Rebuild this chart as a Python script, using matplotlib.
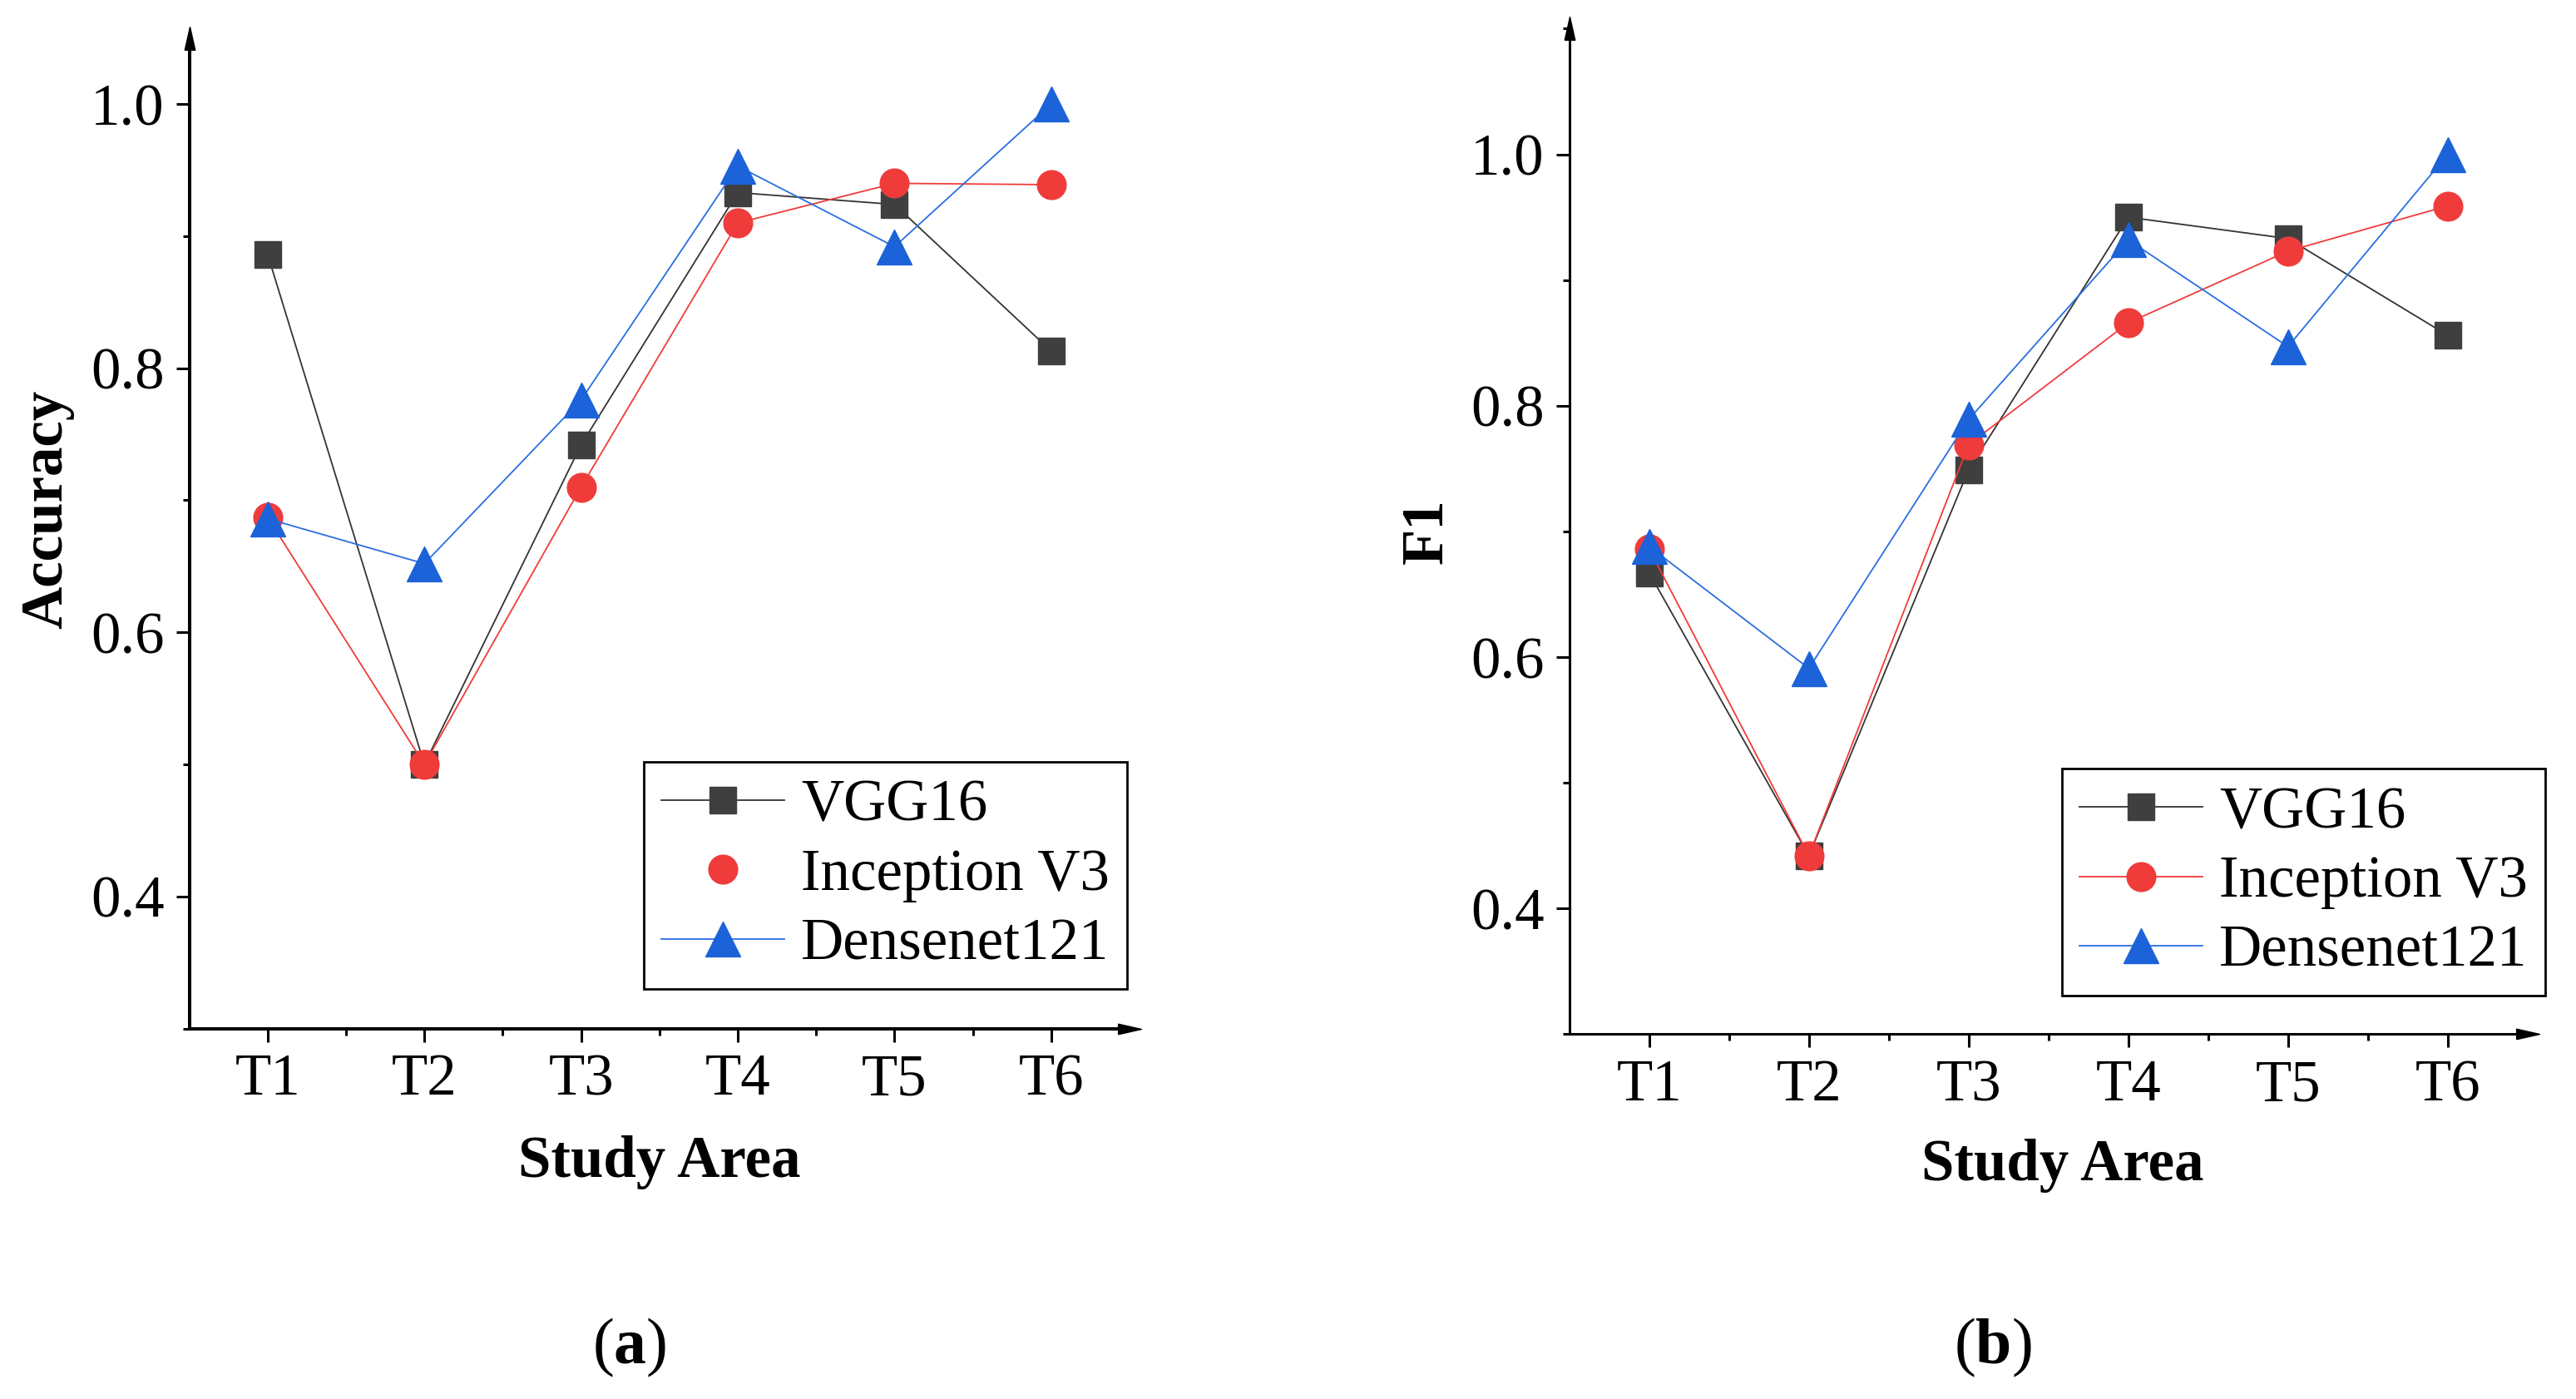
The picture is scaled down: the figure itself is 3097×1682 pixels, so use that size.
import matplotlib
matplotlib.use('Agg')
import matplotlib.pyplot as plt
from matplotlib.lines import Line2D
from matplotlib.ticker import MultipleLocator

plt.rcParams['font.family'] = ['Liberation Serif', 'DejaVu Serif']
plt.rcParams['mathtext.fontset'] = 'custom'
plt.rcParams['mathtext.rm'] = 'Liberation Serif'
plt.rcParams['mathtext.bf'] = 'Liberation Serif:bold'

areas = ['T1', 'T2', 'T3', 'T4', 'T5', 'T6']
models = ['VGG16', 'Inception V3', 'Densenet121']

# panel (a) accuracy
acc_vgg = [0.886, 0.500, 0.742, 0.933, 0.924, 0.813]
acc_inc = [0.687, 0.500, 0.710, 0.910, 0.940, 0.939]
acc_den = [0.686, 0.652, 0.776, 0.953, 0.892, 1.000]

# panel (b) F1
f1_vgg = [0.667, 0.442, 0.749, 0.950, 0.933, 0.856]
f1_inc = [0.686, 0.442, 0.769, 0.866, 0.923, 0.959]
f1_den = [0.688, 0.591, 0.789, 0.932, 0.847, 1.000]

c_vgg = '#3f3f3f'
c_inc = '#f03b3b'
c_den = '#1c62d8'
styles = [('s', 23, c_vgg, '#333333'),
          ('o', 25, c_inc, '#f03b3b'),
          ('^', 30, c_den, '#2a6ee0')]

arrow_r = [(-1, -0.45), (1, 0), (-1, 0.45), (-1, -0.45)]
arrow_u = [(-0.45, -1), (0, 1), (0.45, -1), (-0.45, -1)]

fig = plt.figure(figsize=(30.97, 16.82), dpi=100)
ax1 = fig.add_axes([0.0735, 0.2648, 0.365, 0.708])
ax2 = fig.add_axes([0.6092, 0.2608, 0.372, 0.7187])


def draw(ax, series, ylim, ylabel, spw, no_line_legend, leg_anchor,
         xl_pos, yl_pos, xl_pad):
    x = list(range(1, len(areas) + 1))
    for vals, (mk, ms, mc, lc) in zip(series, styles):
        ax.plot(x, vals, color=lc, lw=1.3, marker=mk, ms=ms,
                markerfacecolor=mc, markeredgecolor=mc, zorder=3)
    ax.set_xlim(0.5, 6.5)
    ax.set_ylim(*ylim)
    ax.set_xticks(x)
    ax.set_xticklabels(areas)
    ax.set_xticks([1.5, 2.5, 3.5, 4.5, 5.5], minor=True)
    ax.yaxis.set_minor_locator(MultipleLocator(0.1))
    ax.set_yticks([0.4, 0.6, 0.8, 1.0])
    ax.set_yticklabels(['0.4', '0.6', '0.8', '1.0'])
    ax.tick_params(which='major', length=11.5, width=2.2, direction='out',
                   labelsize=51, pad=10)
    ax.tick_params(which='minor', length=5.8, width=2.2, direction='out')
    for s in ['top', 'right']:
        ax.spines[s].set_visible(False)
    for s in ['left', 'bottom']:
        ax.spines[s].set_linewidth(spw)
    ax.plot(1, 0, marker=arrow_r, ms=20, color='black',
            transform=ax.transAxes, clip_on=False)
    ax.plot(0, 1, marker=arrow_u, ms=20, color='black',
            transform=ax.transAxes, clip_on=False)
    ax.set_xlabel('Study Area', fontsize=51, fontweight='bold',
                  labelpad=xl_pad, x=xl_pos)
    ax.set_ylabel(ylabel, fontsize=51, fontweight='bold', labelpad=14,
                  y=yl_pos)

    handles = []
    for i, (mk, ms, mc, lc) in enumerate(styles):
        ls = 'none' if i in no_line_legend else '-'
        handles.append(Line2D([], [], color=lc, lw=1.3, ls=ls, marker=mk,
                              ms=ms, markerfacecolor=mc, markeredgecolor=mc))
    leg = ax.legend(handles, models, loc='lower right',
                    bbox_to_anchor=leg_anchor, fontsize=51, frameon=True,
                    fancybox=False, framealpha=1, edgecolor='black',
                    handlelength=2.1, handletextpad=0.28, labelspacing=0.26,
                    borderpad=0.29, borderaxespad=0)
    leg.get_frame().set_linewidth(2.0)


draw(ax1, [acc_vgg, acc_inc, acc_den], (0.3, 1.05), 'Accuracy', 2.9, [1],
     (0.997, 0.040), 0.5, 0.524, 24)
draw(ax2, [f1_vgg, f1_inc, f1_den], (0.3, 1.1), 'F1', 2.2, [],
     (1.018, 0.038), 0.515, 0.5, 22)

fig.text(757 / 3097, 1 - 1620 / 1682, r'($\mathbf{a}$)', fontsize=56,
         ha='center', va='center')
fig.text(2396 / 3097, 1 - 1620 / 1682, r'($\mathbf{b}$)', fontsize=56,
         ha='center', va='center')

fig.savefig('out.png', dpi=100, facecolor='white')
